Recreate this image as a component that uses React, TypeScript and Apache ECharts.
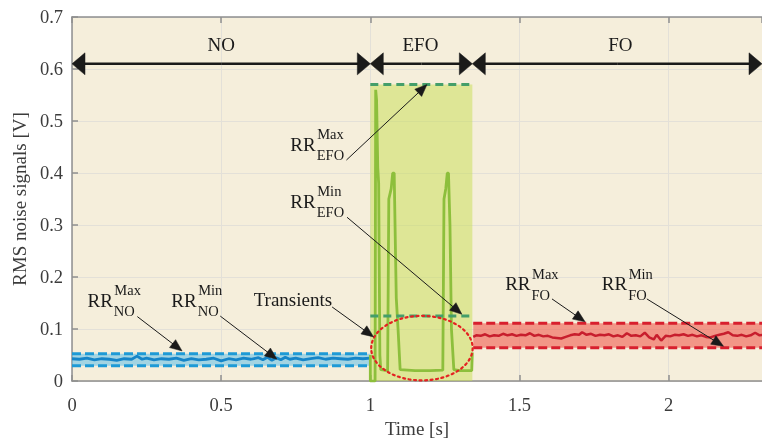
import React, { useEffect, useRef } from 'react';
import * as echarts from 'echarts';

const FONT = '"Liberation Serif", "Times New Roman", serif';
const X_MAX = 2.313;
const xTicks = [0, 0.5, 1, 1.5, 2];

const phaseNames = ['NO', 'EFO', 'FO'];
const phaseBounds = [0, 1, 1.342, X_MAX];
const phaseLabelX = [0.5, 1.168, 1.838];
const phaseArrowY = 0.61;
const phaseLabelY = 0.6474;

const blueBand = [0.0295, 0.0527];
const blueSignal: [number, number][] = [
  [0, 0.043], [0.025, 0.042], [0.05, 0.044], [0.075, 0.041], [0.1, 0.043], [0.125, 0.042],
  [0.15, 0.04], [0.175, 0.043], [0.2, 0.042], [0.218, 0.048], [0.235, 0.042], [0.25, 0.044],
  [0.275, 0.041], [0.3, 0.043], [0.325, 0.042], [0.35, 0.044], [0.375, 0.04], [0.4, 0.043],
  [0.425, 0.041], [0.45, 0.042], [0.475, 0.044], [0.5, 0.039], [0.525, 0.043], [0.55, 0.041],
  [0.575, 0.044], [0.6, 0.042], [0.625, 0.045], [0.64, 0.041], [0.655, 0.046], [0.67, 0.04],
  [0.685, 0.045], [0.7, 0.041], [0.715, 0.046], [0.73, 0.042], [0.75, 0.044], [0.775, 0.041],
  [0.8, 0.043], [0.825, 0.045], [0.85, 0.042], [0.875, 0.044], [0.9, 0.043], [0.925, 0.042],
  [0.95, 0.044], [0.975, 0.043], [1.0, 0.044],
];

const greenBand = [0.125, 0.57];
const greenSignal: [number, number][] = [
  [1.0, 0.05], [1.0, 0.0], [1.016, 0.0], [1.018, 0.56], [1.021, 0.54], [1.025, 0.41],
  [1.028, 0.38], [1.032, 0.05], [1.035, 0.022], [1.058, 0.02], [1.062, 0.35], [1.07, 0.37],
  [1.075, 0.4], [1.08, 0.4], [1.087, 0.16], [1.093, 0.1], [1.1, 0.022], [1.15, 0.02],
  [1.2, 0.02], [1.243, 0.021], [1.247, 0.35], [1.253, 0.37], [1.258, 0.4], [1.262, 0.4],
  [1.267, 0.3], [1.272, 0.1], [1.28, 0.022], [1.3, 0.02], [1.34, 0.02], [1.342, 0.055],
];

const redBand = [0.064, 0.111];
const redSignal: [number, number][] = [
  [1.345, 0.085], [1.355, 0.088], [1.37, 0.087], [1.385, 0.09], [1.4, 0.086], [1.415, 0.088],
  [1.43, 0.087], [1.445, 0.091], [1.46, 0.088], [1.475, 0.09], [1.49, 0.087], [1.505, 0.089],
  [1.52, 0.088], [1.535, 0.092], [1.55, 0.087], [1.565, 0.089], [1.58, 0.086], [1.595, 0.087],
  [1.61, 0.084], [1.625, 0.083], [1.64, 0.082], [1.655, 0.085], [1.67, 0.088], [1.685, 0.09],
  [1.7, 0.089], [1.71, 0.094], [1.725, 0.089], [1.74, 0.091], [1.755, 0.087], [1.77, 0.089],
  [1.785, 0.088], [1.8, 0.09], [1.815, 0.086], [1.83, 0.088], [1.845, 0.085], [1.86, 0.092],
  [1.875, 0.087], [1.89, 0.088], [1.905, 0.086], [1.92, 0.093], [1.935, 0.084], [1.95, 0.08],
  [1.96, 0.089], [1.975, 0.078], [1.99, 0.087], [2.005, 0.086], [2.02, 0.089], [2.035, 0.088],
  [2.05, 0.09], [2.065, 0.087], [2.08, 0.089], [2.095, 0.086], [2.11, 0.088], [2.125, 0.085],
  [2.14, 0.084], [2.155, 0.087], [2.17, 0.089], [2.185, 0.091], [2.2, 0.094], [2.215, 0.088],
  [2.23, 0.087], [2.245, 0.089], [2.26, 0.086], [2.275, 0.088], [2.29, 0.093], [2.305, 0.088],
  [2.32, 0.089],
];

const ellipseCenter = [1.173, 0.0634];
const ellipseRadii = [0.17, 0.062];

const rrSup = ['Max', 'Min', 'Max', 'Min', 'Max', 'Min'];
const rrSub = ['NO', 'NO', 'EFO', 'EFO', 'FO', 'FO'];
const rrAt: [number, number][] = [[0.052, 0.143], [0.333, 0.143], [0.732, 0.4435], [0.732, 0.3336], [1.452, 0.175], [1.776, 0.175]];
const rrFrom: [number, number][] = [[0.219, 0.124], [0.497, 0.125], [0.92, 0.425], [0.922, 0.315], [1.609, 0.158], [1.927, 0.158]];
const rrTo: [number, number][] = [[0.369, 0.058], [0.687, 0.042], [1.19, 0.57], [1.307, 0.1285], [1.72, 0.114], [2.184, 0.067]];

const transientLabel = 'Transients';
const transientAt: [number, number] = [0.872, 0.1455];
const transientFrom: [number, number] = [0.872, 0.1425];
const transientTo: [number, number] = [1.011, 0.085];

const fmtY = (v: number) => (v === 0 ? '0' : v.toFixed(1));
const fmtX = (v: number) => (xTicks.some((t) => Math.abs(t - v) < 1e-9) ? String(v) : '');

function arrowEls(p0: number[], p1: number[], len: number, halfW: number, lw: number, color: string) {
  const dx = p1[0] - p0[0];
  const dy = p1[1] - p0[1];
  const d = Math.hypot(dx, dy) || 1;
  const ux = dx / d, uy = dy / d;
  const bx = p1[0] - ux * len, by = p1[1] - uy * len;
  const nx = -uy, ny = ux;
  return [
    { type: 'line', shape: { x1: p0[0], y1: p0[1], x2: bx + ux * 1, y2: by + uy * 1 }, style: { stroke: color, lineWidth: lw }, z: 50 },
    {
      type: 'polygon',
      shape: { points: [[p1[0], p1[1]], [bx + nx * halfW, by + ny * halfW], [bx - nx * halfW, by - ny * halfW]] },
      style: { fill: color, stroke: color, lineWidth: 0.5 },
      z: 51,
    },
  ];
}

export default function App() {
  const ref = useRef<HTMLDivElement>(null);
  useEffect(() => {
    if (!ref.current) return;
    const chart = echarts.init(ref.current, undefined, { renderer: 'svg' });
    const axisGray = '#8f8f8f';
    const split = { show: true, lineStyle: { color: '#e3e0d8', width: 1 } };
    const dashed = (color: string, w = 3, dash = [9, 4]) => ({ color, width: w, type: dash as any });

    chart.setOption({
      animation: false,
      grid: { left: 72, top: 17, right: 0, bottom: 54, show: true, backgroundColor: '#f5eedb', borderWidth: 0 },
      xAxis: [
        {
          type: 'value', min: 0, max: X_MAX, interval: 0.5, position: 'bottom',
          axisLine: { show: true, onZero: false, lineStyle: { color: axisGray, width: 1.5 } },
          axisTick: { show: true, inside: true, length: 6, lineStyle: { color: axisGray, width: 1.5 } },
          axisLabel: { fontFamily: FONT, fontSize: 18.5, color: '#3c3c3c', margin: 14, formatter: fmtX, showMaxLabel: false },
          splitLine: split,
          name: 'Time [s]', nameLocation: 'middle', nameGap: 36,
          nameTextStyle: { fontFamily: FONT, fontSize: 19, color: '#3c3c3c' },
        },
        {
          type: 'value', min: 0, max: X_MAX, interval: 0.5, position: 'top',
          axisLine: { show: true, onZero: false, lineStyle: { color: axisGray, width: 1.5 } },
          axisTick: { show: true, inside: true, length: 6, lineStyle: { color: axisGray, width: 1.5 } },
          axisLabel: { show: false },
          splitLine: { show: false },
        },
      ],
      yAxis: {
        type: 'value', min: 0, max: 0.7, interval: 0.1,
        axisLine: { show: true, onZero: false, lineStyle: { color: axisGray, width: 1.5 } },
        axisTick: { show: true, inside: true, length: 6, lineStyle: { color: axisGray, width: 1.5 } },
        axisLabel: { fontFamily: FONT, fontSize: 18.5, color: '#3c3c3c', margin: 9, formatter: fmtY },
        splitLine: split,
        name: 'RMS noise signals [V]', nameLocation: 'middle', nameGap: 33,
        nameTextStyle: { fontFamily: FONT, fontSize: 19, color: '#3c3c3c' },
      },
      series: [
        {
          type: 'line', data: [], z: 1,
          markArea: {
            silent: true,
            data: [
              [{ coord: [0, blueBand[0]], itemStyle: { color: 'rgba(95,192,231,0.55)' } }, { coord: [1, blueBand[1]] }],
              [{ coord: [phaseBounds[1], 0], itemStyle: { color: 'rgba(199,222,81,0.5)' } }, { coord: [phaseBounds[2], greenBand[1]] }],
              [{ coord: [1.345, redBand[0]], itemStyle: { color: 'rgba(240,91,79,0.6)' } }, { coord: [X_MAX, redBand[1]] }],
            ],
          },
        },
        { type: 'line', data: blueSignal, symbol: 'none', lineStyle: { color: '#1585c8', width: 2.8 }, z: 3 },
        { type: 'line', data: [[0, blueBand[1]], [1, blueBand[1]]], symbol: 'none', lineStyle: dashed('#1e9ad6'), z: 4 },
        { type: 'line', data: [[0, blueBand[0]], [1, blueBand[0]]], symbol: 'none', lineStyle: dashed('#1e9ad6'), z: 4 },
        { type: 'line', data: greenSignal, symbol: 'none', lineStyle: { color: '#8dbf3c', width: 2.8 }, z: 3 },
        { type: 'line', data: [[1, greenBand[1]], [phaseBounds[2], greenBand[1]]], symbol: 'none', lineStyle: dashed('#449e6a', 3, [8, 5]), z: 4 },
        { type: 'line', data: [[1, greenBand[0]], [phaseBounds[2], greenBand[0]]], symbol: 'none', lineStyle: dashed('#449e6a', 3, [8, 5]), z: 4 },
        { type: 'line', data: redSignal, symbol: 'none', lineStyle: { color: '#c81e2d', width: 2.5 }, z: 3 },
        { type: 'line', data: [[1.345, redBand[1]], [X_MAX, redBand[1]]], symbol: 'none', lineStyle: dashed('#d81f2e'), z: 4 },
        { type: 'line', data: [[1.345, redBand[0]], [X_MAX, redBand[0]]], symbol: 'none', lineStyle: dashed('#d81f2e'), z: 4 },
      ],
    });

    const px = (p: number[]) => chart.convertToPixel({ xAxisIndex: 0, yAxisIndex: 0 }, p) as number[];
    const ctx = document.createElement('canvas').getContext('2d')!;
    ctx.font = `19px "Liberation Serif"`;
    const rrW = ctx.measureText('RR').width;

    const graphics: any[] = [];
    const dark = '#1a1a1a';
    for (let i = 0; i < phaseNames.length; i++) {
      const a = px([phaseBounds[i], phaseArrowY]);
      const b = px([phaseBounds[i + 1], phaseArrowY]);
      const mid = [(a[0] + b[0]) / 2, a[1]];
      graphics.push(...arrowEls(mid, a, 13, 11, 2.5, dark));
      graphics.push(...arrowEls(mid, b, 13, 11, 2.5, dark));
      const l = px([phaseLabelX[i], phaseLabelY]);
      graphics.push({
        type: 'text', x: l[0], y: l[1], z: 52,
        style: { text: phaseNames[i], fontFamily: FONT, fontSize: 19, fill: dark, align: 'center', verticalAlign: 'middle' },
      });
    }
    for (let i = 0; i < rrSup.length; i++) {
      const t = px(rrAt[i]);
      graphics.push({
        type: 'text', x: t[0], y: t[1] - 19 * 0.3375, z: 52,
        style: { text: 'RR', fontFamily: FONT, fontSize: 19, fill: dark, align: 'left', verticalAlign: 'middle' },
      });
      graphics.push({
        type: 'text', x: t[0] + rrW + 1.5, y: t[1] - 11.6 - 14.5 * 0.3375, z: 52,
        style: { text: rrSup[i], fontFamily: FONT, fontSize: 14.5, fill: dark, align: 'left', verticalAlign: 'middle' },
      });
      graphics.push({
        type: 'text', x: t[0] + rrW + 1, y: t[1] + 9.4 - 14.5 * 0.3375, z: 52,
        style: { text: rrSub[i], fontFamily: FONT, fontSize: 14.5, fill: dark, align: 'left', verticalAlign: 'middle' },
      });
      graphics.push(...arrowEls(px(rrFrom[i]), px(rrTo[i]), 12, 5, 1, dark));
    }
    const tt = px(transientAt);
    graphics.push({
      type: 'text', x: tt[0], y: tt[1] - 19 * 0.3375, z: 52,
      style: { text: transientLabel, fontFamily: FONT, fontSize: 19, fill: dark, align: 'right', verticalAlign: 'middle' },
    });
    graphics.push(...arrowEls(px(transientFrom), px(transientTo), 12, 5, 1, dark));
    const c = px(ellipseCenter);
    const e = px([ellipseCenter[0] + ellipseRadii[0], ellipseCenter[1] + ellipseRadii[1]]);
    graphics.push({
      type: 'ellipse', z: 49,
      shape: { cx: c[0], cy: c[1], rx: Math.abs(e[0] - c[0]), ry: Math.abs(e[1] - c[1]) },
      style: { fill: 'none', stroke: '#e42222', lineWidth: 2.2, lineDash: [2, 3.5], lineCap: 'round' },
    });

    chart.setOption({ graphic: graphics });

    return () => chart.dispose();
  }, []);

  return <div ref={ref} style={{ position: 'fixed', left: 0, top: 0, width: 762, height: 443 }} />;
}
